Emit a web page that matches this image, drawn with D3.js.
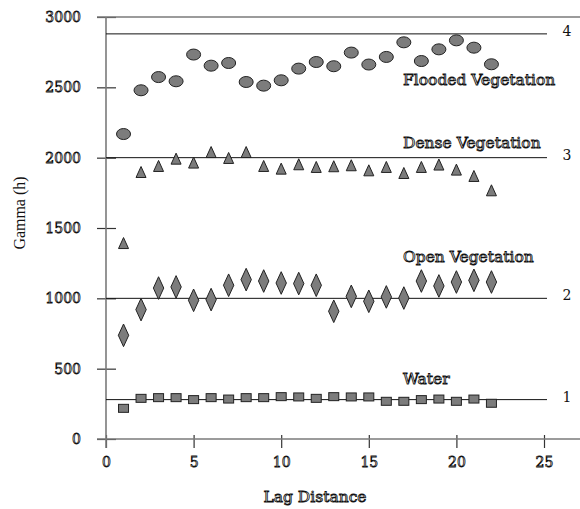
<!DOCTYPE html>
<html lang="en">
<head>
  <meta charset="UTF-8">
  <title>Gamma (h) by Lag Distance</title>
  <script src="https://d3js.org/d3.v7.min.js"></script>
  <style>
    body { margin: 0; background: #fff; }
    .outline {
      font-family: "DejaVu Serif", serif;
      fill: #fff;
      stroke: #111;
      stroke-width: 0.85;
    }
    .tick text {
      font-family: "DejaVu Serif", serif;
      font-size: 14px;
      fill: #fff;
      stroke: #111;
      stroke-width: 0.8;
    }
    .mark {
      fill: #7c7c7c;
      stroke: #222;
      stroke-width: 1;
    }
  </style>
</head>
<body>
  <svg width="580" height="509"></svg>
  <script>
    // lag positions and the four series
    const lags = [1, 2, 3, 4, 5, 6, 7, 8, 9, 10, 11, 12, 13, 14, 15, 16, 17, 18, 19, 20, 21, 22];
    const flooded = [2168, 2479, 2573, 2543, 2733, 2654, 2673, 2538, 2512, 2550, 2633, 2680, 2650, 2747, 2662, 2716, 2820, 2687, 2770, 2834, 2782, 2664];
    const dense = [1393, 1898, 1941, 1993, 1965, 2040, 1998, 2040, 1941, 1922, 1953, 1934, 1939, 1946, 1910, 1934, 1891, 1934, 1951, 1915, 1870, 1768];
    const openVeg = [737, 920, 1073, 1081, 986, 991, 1093, 1133, 1123, 1109, 1105, 1093, 908, 1014, 979, 1010, 1002, 1123, 1088, 1116, 1128, 1116];
    const water = [218, 289, 294, 294, 280, 294, 284, 294, 294, 301, 299, 289, 301, 299, 299, 268, 268, 280, 284, 268, 284, 254];

    const sills = [280, 1000, 2000, 2880];
    const sillNames = ["1", "2", "3", "4"];
    const seriesNames = ["Flooded Vegetation", "Dense Vegetation", "Open Vegetation", "Water"];
    const seriesLabelY = [2552, 2106, 1296, 431];   // where the names sit, in gamma units

    const xTicks = [0, 5, 10, 15, 20, 25];
    const yTicks = [0, 500, 1000, 1500, 2000, 2500, 3000];

    const svg = d3.select('svg');
    const x = d3.scaleLinear().domain([0, 25]).range([106, 544]);
    const y = d3.scaleLinear().domain([0, 3000]).range([439, 17]);

    const axisColor = '#7a7a7a';

    // y axis: ticks cross the axis line
    const gy = svg.append('g')
      .attr('transform', `translate(${x(0)},0)`)
      .call(d3.axisLeft(y).tickValues(yTicks).tickFormat(d3.format('d'))
        .tickSizeOuter(0).tickSizeInner(9).tickPadding(16));
    gy.select('.domain').remove();
    gy.selectAll('.tick line').attr('x1', 10).attr('stroke', '#333').attr('stroke-width', 1.2);
    gy.selectAll('.tick text').attr('font-family', null).attr('font-size', null).attr('fill', null);

    // x axis
    const gx = svg.append('g')
      .attr('transform', `translate(0,${y(0)})`)
      .call(d3.axisBottom(x).tickValues(xTicks).tickFormat(d3.format('d'))
        .tickSizeOuter(0).tickSizeInner(9).tickPadding(9));
    gx.select('.domain').remove();
    gx.selectAll('.tick line').attr('y1', -4).attr('stroke', '#333').attr('stroke-width', 1.2);
    gx.selectAll('.tick text').attr('font-family', null).attr('font-size', null).attr('fill', null);

    // axis lines and top frame line
    svg.append('line')
      .attr('x1', x(0)).attr('x2', x(0))
      .attr('y1', y(3000)).attr('y2', y(0) + 9)
      .attr('stroke', axisColor).attr('stroke-width', 1.6);
    svg.append('line')
      .attr('x1', x(0) - 9).attr('x2', 580)
      .attr('y1', y(0)).attr('y2', y(0))
      .attr('stroke', axisColor).attr('stroke-width', 1.6);
    svg.append('line')
      .attr('x1', x(0) - 9).attr('x2', 580)
      .attr('y1', y(3000)).attr('y2', y(3000))
      .attr('stroke', axisColor).attr('stroke-width', 1.6);

    // sill lines with their numbers
    svg.selectAll('line.sill')
      .data(sills)
      .enter().append('line')
      .attr('class', 'sill')
      .attr('x1', x(0)).attr('x2', x(25) + 3)
      .attr('y1', d => y(d)).attr('y2', d => y(d))
      .attr('stroke', '#111').attr('stroke-width', 1);

    svg.selectAll('text.sillname')
      .data(sills)
      .enter().append('text')
      .attr('class', 'sillname')
      .attr('x', 567)
      .attr('y', d => y(d) - 3)
      .attr('dy', '0.35em')
      .attr('text-anchor', 'middle')
      .attr('font-family', 'DejaVu Serif, serif')
      .attr('font-size', 14)
      .attr('fill', '#111')
      .text((d, i) => sillNames[i]);

    // markers
    const zip = vals => lags.map((l, i) => ({ lag: l, v: vals[i] }));

    svg.selectAll('ellipse.fl')
      .data(zip(flooded))
      .enter().append('ellipse')
      .attr('class', 'mark fl')
      .attr('cx', d => x(d.lag)).attr('cy', d => y(d.v))
      .attr('rx', 7).attr('ry', 5.5);

    svg.selectAll('path.dv')
      .data(zip(dense))
      .enter().append('path')
      .attr('class', 'mark dv')
      .attr('transform', d => `translate(${x(d.lag)},${y(d.v)})`)
      .attr('d', 'M0,-5.5L5,5.5L-5,5.5Z');

    svg.selectAll('path.ov')
      .data(zip(openVeg))
      .enter().append('path')
      .attr('class', 'mark ov')
      .attr('transform', d => `translate(${x(d.lag)},${y(d.v)})`)
      .attr('d', 'M0,-11.3L5.2,0L0,11.3L-5.2,0Z');

    svg.selectAll('rect.wa')
      .data(zip(water))
      .enter().append('rect')
      .attr('class', 'mark wa')
      .attr('x', d => x(d.lag) - 5).attr('y', d => y(d.v) - 4)
      .attr('width', 10).attr('height', 8);

    // series names
    svg.selectAll('text.sname')
      .data(seriesNames)
      .enter().append('text')
      .attr('class', 'outline sname')
      .attr('x', 403)
      .attr('y', (d, i) => y(seriesLabelY[i]))
      .attr('dy', '0.35em')
      .attr('font-size', 15.5)
      .text(d => d);

    // axis titles
    svg.append('text')
      .attr('class', 'outline')
      .attr('x', 315).attr('y', 497)
      .attr('dy', '0.35em')
      .attr('text-anchor', 'middle')
      .attr('font-size', 15.5)
      .text('Lag Distance');

    svg.append('text')
      .attr('transform', 'translate(19,213) rotate(-90)')
      .attr('dy', '0.35em')
      .attr('text-anchor', 'middle')
      .attr('font-family', 'Liberation Serif, serif')
      .attr('font-size', 17)
      .attr('textLength', 73)
      .attr('lengthAdjust', 'spacingAndGlyphs')
      .attr('fill', '#111')
      .text('Gamma (h)');
  </script>
</body>
</html>
